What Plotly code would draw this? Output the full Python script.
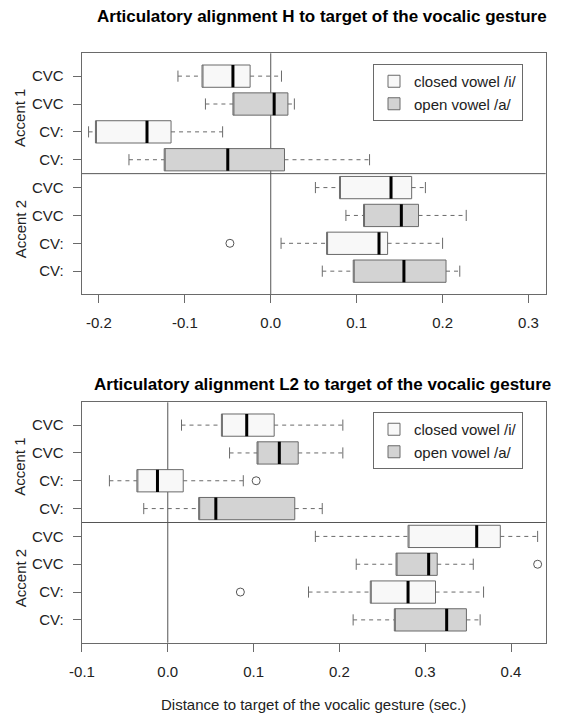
import plotly.graph_objects as go
from plotly.subplots import make_subplots

# row positions, bottom (1) to top (8)
positions = [1, 2, 3, 4, 5, 6, 7, 8]
row_labels = ["CV:", "CV:", "CVC", "CVC", "CV:", "CV:", "CVC", "CVC"]
closed_pos = [8, 6, 4, 2]
open_pos = [7, 5, 3, 1]

# --- H alignment (top panel) ---
h_closed_lo = [-0.108, -0.212, 0.052, 0.012]
h_closed_q1 = [-0.080, -0.204, 0.080, 0.065]
h_closed_med = [-0.044, -0.144, 0.140, 0.126]
h_closed_q3 = [-0.024, -0.116, 0.164, 0.136]
h_closed_hi = [0.0125, -0.056, 0.180, 0.200]

h_open_lo = [-0.076, -0.165, 0.0875, 0.060]
h_open_q1 = [-0.044, -0.124, 0.108, 0.096]
h_open_med = [0.004, -0.050, 0.152, 0.155]
h_open_q3 = [0.020, 0.016, 0.172, 0.204]
h_open_hi = [0.0275, 0.115, 0.2275, 0.220]

h_out_x = [-0.0475]
h_out_y = [2]

# --- L2 alignment (bottom panel) ---
l_closed_lo = [0.016, -0.068, 0.172, 0.164]
l_closed_q1 = [0.0625, -0.036, 0.280, 0.236]
l_closed_med = [0.092, -0.012, 0.360, 0.280]
l_closed_q3 = [0.124, 0.018, 0.3875, 0.312]
l_closed_hi = [0.204, 0.088, 0.431, 0.368]

l_open_lo = [0.072, -0.028, 0.2196, 0.216]
l_open_q1 = [0.104, 0.036, 0.266, 0.264]
l_open_med = [0.130, 0.056, 0.304, 0.325]
l_open_q3 = [0.152, 0.148, 0.314, 0.348]
l_open_hi = [0.204, 0.180, 0.356, 0.364]

l_out_x = [0.103, 0.431, 0.0846]
l_out_y = [6, 3, 2]

h_ticks = [-0.2, -0.1, 0.0, 0.1, 0.2, 0.3]
h_ticktext = ["-0.2", "-0.1", "0.0", "0.1", "0.2", "0.3"]
l_ticks = [-0.1, 0.0, 0.1, 0.2, 0.3, 0.4]
l_ticktext = ["-0.1", "0.0", "0.1", "0.2", "0.3", "0.4"]

FONT = "Liberation Sans, Arial, sans-serif"
GREY = "#6a6a6a"
TXT = "#222222"


def segs(xs0, xs1, ys0, ys1):
    x, y = [], []
    for a, b, c, d in zip(xs0, xs1, ys0, ys1):
        x += [a, b, None]
        y += [c, d, None]
    return x, y


fig = make_subplots(rows=2, cols=1)


def add_panel(row, groups, out_x, out_y, legend):
    for name, pos, lo, q1, med, q3, hi, fill in groups:
        fig.add_trace(go.Box(
            y=pos, q1=q1, median=q1, q3=q3, lowerfence=q1, upperfence=q3,
            orientation="h", width=0.8, whiskerwidth=0, boxpoints=False,
            fillcolor=fill, line=dict(color=GREY, width=1),
            name=name, legend=legend, showlegend=True, hoverinfo="skip"),
            row=row, col=1)
        # dashed whiskers
        wx, wy = segs(lo + q3, q1 + hi, pos + pos, pos + pos)
        fig.add_trace(go.Scatter(x=wx, y=wy, mode="lines", showlegend=False,
                                 line=dict(color=GREY, width=1, dash="4px,4px"),
                                 hoverinfo="skip"), row=row, col=1)
        # staples
        ends = lo + hi
        pp = pos + pos
        sx, sy = segs(ends, ends, [p - 0.2 for p in pp], [p + 0.2 for p in pp])
        fig.add_trace(go.Scatter(x=sx, y=sy, mode="lines", showlegend=False,
                                 line=dict(color=GREY, width=1), hoverinfo="skip"),
                      row=row, col=1)
        # medians
        mx, my = segs(med, med, [p - 0.4 for p in pos], [p + 0.4 for p in pos])
        fig.add_trace(go.Scatter(x=mx, y=my, mode="lines", showlegend=False,
                                 line=dict(color="black", width=3), hoverinfo="skip"),
                      row=row, col=1)
    fig.add_trace(go.Scatter(x=out_x, y=out_y, mode="markers", showlegend=False,
                             marker=dict(symbol="circle-open", size=8,
                                         color="#555555", line=dict(width=1)),
                             hoverinfo="skip"), row=row, col=1)


add_panel(1, [
    ("closed vowel /i/", closed_pos, h_closed_lo, h_closed_q1, h_closed_med, h_closed_q3, h_closed_hi, "#f8f8f8"),
    ("open vowel /a/", open_pos, h_open_lo, h_open_q1, h_open_med, h_open_q3, h_open_hi, "#d3d3d3"),
], h_out_x, h_out_y, "legend")

add_panel(2, [
    ("closed vowel /i/", closed_pos, l_closed_lo, l_closed_q1, l_closed_med, l_closed_q3, l_closed_hi, "#f8f8f8"),
    ("open vowel /a/", open_pos, l_open_lo, l_open_q1, l_open_med, l_open_q3, l_open_hi, "#d3d3d3"),
], l_out_x, l_out_y, "legend2")

W, H = 562, 716
x_dom = [81.7 / W, 545.7 / W]
ax_common = dict(showgrid=False, zeroline=False, showline=True, mirror=True,
                 linecolor=GREY, linewidth=1, ticks="outside", ticklen=8,
                 tickcolor=GREY, automargin=False,
                 tickfont=dict(family=FONT, size=15, color=TXT))

fig.update_xaxes(**ax_common)
fig.update_yaxes(**ax_common)
fig.update_xaxes(row=1, col=1, domain=x_dom, range=[-0.22, 0.32],
                 tickvals=h_ticks, ticktext=h_ticktext, ticklabelstandoff=7)
fig.update_xaxes(row=2, col=1, domain=x_dom, range=[-0.1003, 0.4404],
                 tickvals=l_ticks, ticktext=l_ticktext, ticklabelstandoff=7)
fig.update_yaxes(row=1, col=1, domain=[(H - 294) / H, (H - 53.3) / H],
                 range=[0.18, 8.82], tickvals=positions, ticktext=row_labels,
                 ticklabelstandoff=6)
fig.update_yaxes(row=2, col=1, domain=[(H - 642.7) / H, (H - 402.3) / H],
                 range=[0.18, 8.82], tickvals=positions, ticktext=row_labels,
                 ticklabelstandoff=6)

shapes = []
for xr, yr in (("x", "y"), ("x2", "y2")):
    shapes.append(dict(type="line", xref=xr, yref=yr + " domain", x0=0, x1=0,
                       y0=0, y1=1, line=dict(color="#555555", width=1), layer="below"))
    shapes.append(dict(type="line", xref=xr + " domain", yref=yr, x0=0, x1=1,
                       y0=4.5, y1=4.5, line=dict(color="#555555", width=1), layer="below"))

annotations = []
for yr in ("y", "y2"):
    for label, yv in (("Accent 1", 6.5), ("Accent 2", 2.5)):
        annotations.append(dict(text=label, xref="paper", yref=yr, x=20 / W, y=yv,
                                xanchor="center", yanchor="middle",
                                textangle=-90, showarrow=False,
                                font=dict(family=FONT, size=15, color=TXT)))
x_mid = (x_dom[0] + x_dom[1]) / 2
for text, ypx in (("<b>Articulatory alignment H to target of the vocalic gesture</b>", 17),
                  ("<b>Articulatory alignment L2 to target of the vocalic gesture</b>", 384)):
    annotations.append(dict(text=text, xref="paper", yref="paper", x=322 / W,
                            y=(H - ypx) / H, xanchor="center", yanchor="middle",
                            showarrow=False,
                            font=dict(family=FONT, size=17, color="black")))
annotations.append(dict(text="Distance to target of the vocalic gesture (sec.)",
                        xref="paper", yref="paper", x=x_mid, y=(H - 704) / H,
                        xanchor="center", yanchor="middle", showarrow=False,
                        font=dict(family=FONT, size=15, color=TXT)))

legend_style = dict(xanchor="right", yanchor="top", bgcolor="white",
                    bordercolor=GREY, borderwidth=1, tracegroupgap=0,
                    font=dict(family=FONT, size=15, color=TXT))

fig.update_layout(
    width=W, height=H,
    margin=dict(l=0, r=0, t=0, b=0),
    plot_bgcolor="white", paper_bgcolor="white",
    shapes=shapes, annotations=annotations,
    legend=dict(x=523 / W, y=(H - 64) / H, **legend_style),
    legend2=dict(x=523 / W, y=(H - 412) / H, **legend_style),
)

# drop the browser's default 8px body margin so the figure sits at the page origin
fig.write_html("out.html", config={"displayModeBar": False},
               post_script="document.body.style.margin='0';document.body.style.overflow='hidden';")
